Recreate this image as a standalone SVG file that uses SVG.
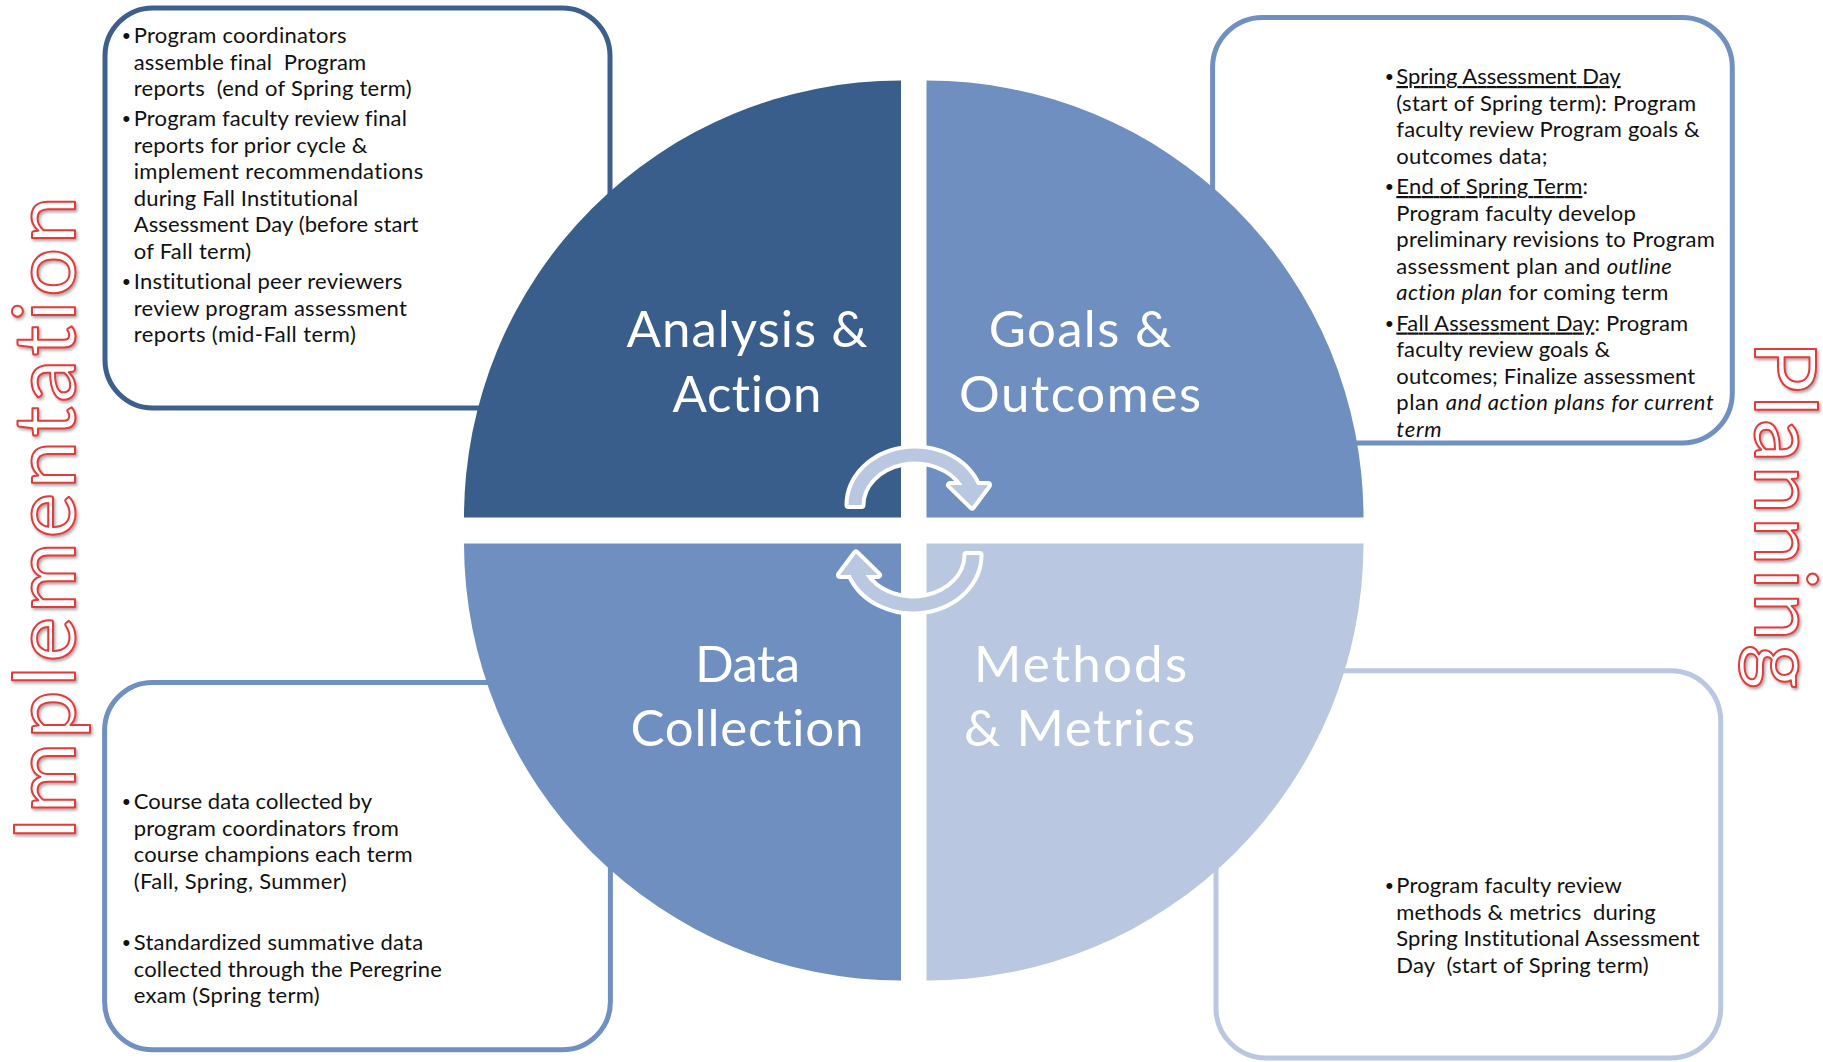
<svg xmlns="http://www.w3.org/2000/svg" xmlns:xlink="http://www.w3.org/1999/xlink" width="1823" height="1062" viewBox="0 0 1823 1062">
<style>
.body{font-family:Lato,"Open Sans","Liberation Sans",sans-serif;font-size:22px;fill:#111;font-variant-ligatures:none;font-feature-settings:"liga" 0;}
.pre{white-space:pre;}
.bul{font-family:"Liberation Sans",sans-serif;font-size:22px;fill:#111;}
.lbl{font-family:Lato,"Open Sans","Liberation Sans",sans-serif;font-size:51px;fill:#fff;text-anchor:middle;font-variant-ligatures:none;font-feature-settings:"liga" 0;}
.big{font-family:Lato,"Open Sans","Liberation Sans",sans-serif;font-size:86px;fill:#fff;stroke:#E23A3A;stroke-width:2;stroke-linejoin:round;font-variant-ligatures:none;font-feature-settings:"liga" 0;}
.box{fill:#fff;stroke-width:5;}
.arrow{fill:#B9C7E0;stroke:#fff;stroke-width:8;paint-order:stroke;stroke-linejoin:round;}
.u{text-decoration:underline;}
.i{font-style:italic;}
</style>
<defs>
<filter id="tshadow" x="-20%" y="-5%" width="140%" height="110%">
<feDropShadow dx="1.5" dy="2" stdDeviation="1.5" flood-color="#000" flood-opacity="0.35"/>
</filter>
<path id="cyc" class="arrow" d="M 848.5 505 A 66.5 56.5 0 0 1 977.2 485 L 988 485 L 972 506.5 L 950 485 L 962.5 485 A 53.5 43.5 0 0 0 861.5 505 Z"/>
</defs>
<rect width="1823" height="1062" fill="#fff"/>

<!-- Side labels -->
<g id="label-implementation" filter="url(#tshadow)">
<text class="big" transform="translate(75,841) rotate(-90)" x="0" y="0" textLength="645" lengthAdjust="spacing">Implementation</text>
</g>
<g id="label-planning" filter="url(#tshadow)">
<text class="big" transform="translate(1755,341) rotate(90)" x="0" y="0" textLength="348" lengthAdjust="spacing">Planning</text>
</g>

<!-- Text boxes -->
<g id="box-analysis-notes">
<rect class="box" x="105" y="8" width="505" height="400" rx="48" stroke="#3C5F8D"/>
<text class="bul" x="122.5" y="43">•</text>
<text class="body" x="133.7" y="43" textLength="212.8" lengthAdjust="spacing">Program coordinators</text>
<text class="body pre" x="133.7" y="69.5" textLength="232.5" lengthAdjust="spacing">assemble final  Program</text>
<text class="body pre" x="133.7" y="96" textLength="277.9" lengthAdjust="spacing">reports  (end of Spring term)</text>
<text class="bul" x="122.5" y="126">•</text>
<text class="body" x="133.7" y="126" textLength="273.2" lengthAdjust="spacing">Program faculty review final</text>
<text class="body" x="133.7" y="152.5" textLength="233.7" lengthAdjust="spacing">reports for prior cycle &amp;</text>
<text class="body" x="133.7" y="179" textLength="289.5" lengthAdjust="spacing">implement recommendations</text>
<text class="body" x="133.7" y="205.5" textLength="224.4" lengthAdjust="spacing">during Fall Institutional</text>
<text class="body" x="133.7" y="232" textLength="284.8" lengthAdjust="spacing">Assessment Day (before start</text>
<text class="body" x="133.7" y="258.5" textLength="117.4" lengthAdjust="spacing">of Fall term)</text>
<text class="bul" x="122.5" y="289">•</text>
<text class="body" x="133.7" y="289" textLength="268.6" lengthAdjust="spacing">Institutional peer reviewers</text>
<text class="body" x="133.7" y="315.5" textLength="273.2" lengthAdjust="spacing">review program assessment</text>
<text class="body" x="133.7" y="342" textLength="222.1" lengthAdjust="spacing">reports (mid-Fall term)</text>
</g>

<g id="box-goals-notes">
<rect class="box" x="1212.6" y="17.4" width="519.7" height="425.6" rx="50" stroke="#7090C1"/>
<text class="bul" x="1385.5" y="84">•</text>
<text class="body" x="1396.3" y="84" textLength="224.4" lengthAdjust="spacing"><tspan class="u">Spring Assessment Day</tspan></text>
<text class="body" x="1396.3" y="110.5" textLength="299.9" lengthAdjust="spacing">(start of Spring term): Program</text>
<text class="body" x="1396.3" y="137" textLength="303.4" lengthAdjust="spacing">faculty review Program goals &amp;</text>
<text class="body" x="1396.3" y="163.5" textLength="151.1" lengthAdjust="spacing">outcomes data;</text>
<text class="bul" x="1385.5" y="194">•</text>
<text class="body" x="1396.3" y="194" textLength="191.8" lengthAdjust="spacing"><tspan class="u">End of Spring Term</tspan>:</text>
<text class="body" x="1396.3" y="220.5" textLength="239.5" lengthAdjust="spacing">Program faculty develop</text>
<text class="body" x="1396.3" y="247" textLength="318.5" lengthAdjust="spacing">preliminary revisions to Program</text>
<text class="body" x="1396.3" y="273.5" textLength="275.5" lengthAdjust="spacing">assessment plan and <tspan class="i">outline</tspan></text>
<text class="body" x="1396.3" y="300" textLength="272" lengthAdjust="spacing"><tspan class="i">action plan</tspan> for coming term</text>
<text class="bul" x="1385.5" y="330.5">•</text>
<text class="body" x="1396.3" y="330.5" textLength="291.8" lengthAdjust="spacing"><tspan class="u">Fall Assessment Day</tspan>: Program</text>
<text class="body" x="1396.3" y="357" textLength="213.9" lengthAdjust="spacing">faculty review goals &amp;</text>
<text class="body" x="1396.3" y="383.5" textLength="298.8" lengthAdjust="spacing">outcomes; Finalize assessment</text>
<text class="body" x="1396.3" y="410" textLength="317.4" lengthAdjust="spacing">plan <tspan class="i">and action plans for current</tspan></text>
<text class="body i" x="1396.3" y="436.5" textLength="45.3" lengthAdjust="spacing">term</text>
</g>

<g id="box-data-notes">
<rect class="box" x="104.6" y="682.4" width="505.8" height="367.4" rx="48" stroke="#7090C1"/>
<text class="bul" x="122.5" y="809">•</text>
<text class="body" x="133.7" y="809" textLength="238.3" lengthAdjust="spacing">Course data collected by</text>
<text class="body" x="133.7" y="835.5" textLength="265.1" lengthAdjust="spacing">program coordinators from</text>
<text class="body" x="133.7" y="862" textLength="279" lengthAdjust="spacing">course champions each term</text>
<text class="body" x="133.7" y="888.5" textLength="212.8" lengthAdjust="spacing">(Fall, Spring, Summer)</text>
<text class="bul" x="122.5" y="950">•</text>
<text class="body" x="133.7" y="950" textLength="289.5" lengthAdjust="spacing">Standardized summative data</text>
<text class="body" x="133.7" y="976.5" textLength="308.1" lengthAdjust="spacing">collected through the Peregrine</text>
<text class="body" x="133.7" y="1003" textLength="186" lengthAdjust="spacing">exam (Spring term)</text>
</g>

<g id="box-methods-notes">
<rect class="box" x="1216" y="670.8" width="504.7" height="387.2" rx="50" stroke="#B9C7E0"/>
<text class="bul" x="1385.5" y="893">•</text>
<text class="body" x="1396.3" y="893" textLength="225.5" lengthAdjust="spacing">Program faculty review</text>
<text class="body pre" x="1396.3" y="919.5" textLength="259.3" lengthAdjust="spacing">methods &amp; metrics  during</text>
<text class="body" x="1396.3" y="946" textLength="303.4" lengthAdjust="spacing">Spring Institutional Assessment</text>
<text class="body pre" x="1396.3" y="972.5" textLength="252.3" lengthAdjust="spacing">Day  (start of Spring term)</text>
</g>

<!-- Quadrant nodes -->
<g id="node-analysis">
<path d="M 901 517.5 L 464 517.5 A 437 437 0 0 1 901 80.5 Z" fill="#3A5E8B"/>
<text class="lbl" x="747" y="347" textLength="241" lengthAdjust="spacing">Analysis &amp;</text>
<text class="lbl" x="747" y="412" textLength="149" lengthAdjust="spacing">Action</text>
</g>
<g id="node-goals">
<path d="M 926.5 517.5 L 926.5 80.5 A 437 437 0 0 1 1363.5 517.5 Z" fill="#6F8FC0"/>
<text class="lbl" x="1080" y="347" textLength="182.5" lengthAdjust="spacing">Goals &amp;</text>
<text class="lbl" x="1080" y="412" textLength="242" lengthAdjust="spacing">Outcomes</text>
</g>
<g id="node-data">
<path d="M 901 543.5 L 901 980.5 A 437 437 0 0 1 464 543.5 Z" fill="#6F8FC0"/>
<text class="lbl" x="747.5" y="682" textLength="105" lengthAdjust="spacing">Data</text>
<text class="lbl" x="747" y="746" textLength="233" lengthAdjust="spacing">Collection</text>
</g>
<g id="node-methods">
<path d="M 926.5 543.5 L 1363.5 543.5 A 437 437 0 0 1 926.5 980.5 Z" fill="#B9C7E0"/>
<text class="lbl" x="1080.5" y="682" textLength="213" lengthAdjust="spacing">Methods</text>
<text class="lbl" x="1079.5" y="746" textLength="231" lengthAdjust="spacing">&amp; Metrics</text>
</g>

<!-- Connectors: cycle arrows -->
<g id="connectors">
<use xlink:href="#cyc" href="#cyc"/>
<use xlink:href="#cyc" href="#cyc" transform="rotate(180 914 530)"/>
</g>
</svg>
